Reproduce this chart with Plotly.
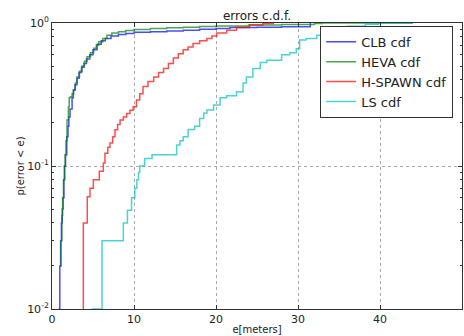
import plotly.graph_objects as go

# ---- data (step CDFs) ----
clb_x = [0.8, 0.95, 1.05, 1.15, 1.25, 1.35, 1.45, 1.55, 1.65, 1.8, 1.95, 2.05, 2.2, 2.45, 2.6, 2.8,
         3.05, 3.3, 3.6, 3.9, 4.2, 4.6, 5.0, 5.5, 6.0, 6.5, 7.2, 8.1, 9.0, 10.0, 12.0, 14.0, 16.0,
         18.0, 20.0, 21.7, 25.0, 28.0, 31.5]
clb_y = [0.01, 0.02, 0.03, 0.04, 0.05, 0.06, 0.08, 0.1, 0.12, 0.16, 0.19, 0.22, 0.25, 0.3, 0.34, 0.37,
         0.41, 0.45, 0.49, 0.52, 0.56, 0.6, 0.65, 0.71, 0.75, 0.78, 0.81, 0.83, 0.845, 0.86, 0.87, 0.88, 0.89,
         0.905, 0.915, 0.93, 0.935, 0.94, 1.0]

heva_x = [1.0, 1.1, 1.2, 1.3, 1.4, 1.5, 1.6, 1.7, 1.83, 2.0, 2.1, 2.25, 2.45, 2.64, 2.85, 3.05,
          3.35, 3.66, 3.95, 4.27, 4.7, 5.08, 5.4, 5.69, 6.2, 6.7, 7.3, 8.1, 9.0, 10.0, 12.0, 14.0,
          16.0, 18.0, 20.0, 24.0, 28.0, 32.0, 33.0, 44.0]
heva_y = [0.02, 0.03, 0.045, 0.06, 0.08, 0.1, 0.12, 0.15, 0.21, 0.26, 0.3, 0.305, 0.32, 0.34, 0.38, 0.42,
          0.46, 0.5, 0.54, 0.58, 0.62, 0.665, 0.7, 0.74, 0.78, 0.82, 0.85, 0.87, 0.885, 0.9, 0.915, 0.925,
          0.935, 0.945, 0.953, 0.968, 0.975, 0.99, 1.0, 1.0]

hspawn_x = [3.82, 3.82, 4.3, 4.63, 5.04, 5.77, 6.26, 6.46, 6.8, 7.07, 7.4, 7.68, 8.0, 8.3, 8.7, 9.1,
            9.5, 9.9, 10.3, 10.7, 11.1, 11.7, 12.4, 13.0, 13.6, 14.2, 14.8, 15.4, 16.0, 16.6, 17.2,
            18.0, 18.9, 19.5, 20.1, 21.3, 22.5, 24.1, 25.7, 27.0]
hspawn_y = [0.01, 0.04, 0.061, 0.07, 0.08, 0.092, 0.105, 0.123, 0.135, 0.145, 0.16, 0.179, 0.195, 0.21,
            0.22, 0.233, 0.245, 0.26, 0.29, 0.32, 0.36, 0.39, 0.42, 0.45, 0.48, 0.52, 0.57, 0.61, 0.65,
            0.68, 0.72, 0.75, 0.78, 0.81, 0.85, 0.89, 0.93, 0.97, 0.99, 1.0]

ls_x = [4.8, 6.1, 8.7, 9.2, 9.7, 10.1, 10.35, 10.55, 10.7, 11.3, 12.2, 15.2, 15.6, 16.0, 16.6, 17.4,
        18.0, 18.5, 18.9, 19.7, 20.5, 21.3, 22.5, 23.3, 23.7, 24.5, 25.4, 26.2, 28.0, 29.0, 29.8,
        30.2, 31.0, 32.3, 33.2, 34.1, 36.0, 38.2, 39.8, 44.0]
ls_y = [0.01, 0.03, 0.04, 0.049, 0.06, 0.07, 0.08, 0.09, 0.1, 0.113, 0.12, 0.14, 0.15, 0.16, 0.18, 0.19,
        0.215, 0.235, 0.246, 0.267, 0.3, 0.31, 0.33, 0.38, 0.42, 0.48, 0.53, 0.55, 0.6, 0.62, 0.66,
        0.76, 0.78, 0.82, 0.87, 0.92, 0.95, 0.98, 1.0, 1.0]

series = [
    ("CLB cdf", clb_x, clb_y, "rgba(0,0,255,0.7)"),
    ("HEVA cdf", heva_x, heva_y, "rgba(0,128,0,0.7)"),
    ("H-SPAWN cdf", hspawn_x, hspawn_y, "rgba(255,0,0,0.7)"),
    ("LS cdf", ls_x, ls_y, "rgba(0,191,191,0.7)"),
]

y_tickvals = [0.01, 0.1, 1]
y_ticktext = ["10<sup>-2</sup>", "10<sup>-1</sup>", "10<sup>0</sup>"]
y_minorvals = [m * d for d in (0.01, 0.1) for m in range(2, 10)]
x_tickvals = [0, 10, 20, 30, 40, 50]

fig = go.Figure()
for name, xs, ys, col in series:
    fig.add_trace(go.Scatter(x=xs, y=ys, name=name, mode="lines",
                             line=dict(color=col, width=1.5, shape="hv")))

font = "DejaVu Sans, sans-serif"
fig.update_layout(
    width=464, height=336,
    margin=dict(l=52, r=2, t=23, b=27, autoexpand=False),
    paper_bgcolor="white", plot_bgcolor="white",
    font=dict(family=font, size=11, color="#222"),
    title=dict(text="errors c.d.f.", x=0.5, xref="paper", xanchor="center",
               y=1, yref="paper", yanchor="bottom", pad=dict(b=3),
               font=dict(family=font, size=12, color="#222")),
    showlegend=True,
    legend=dict(x=0.654, y=0.99, xanchor="left", yanchor="top",
                bgcolor="white", bordercolor="#333", borderwidth=1,
                font=dict(family=font, size=13, color="#222"),
                tracegroupgap=0),
)
fig.update_xaxes(range=[0, 50], tickvals=x_tickvals, showline=True, linecolor="#333", linewidth=1,
                 mirror="allticks", ticks="inside", ticklen=4, tickcolor="#333",
                 showgrid=True, gridcolor="#aaa", griddash="dot", gridwidth=1, zeroline=False,
                 automargin=False,
                 title=dict(text="e[meters]", standoff=0, font=dict(family=font, size=10)),
                 tickfont=dict(size=11))
fig.update_yaxes(type="log", range=[-2, 0], tickvals=y_tickvals, ticktext=y_ticktext,
                 showline=True, linecolor="#333", linewidth=1, mirror="allticks",
                 ticks="inside", ticklen=4, tickcolor="#333",
                 minor=dict(tickvals=y_minorvals, ticks="inside", ticklen=2, tickcolor="#333",
                            showgrid=False),
                 showgrid=True, gridcolor="#aaa", griddash="dot", gridwidth=1, zeroline=False,
                 automargin=False,
                 title=dict(text="p(error < e)", standoff=0, font=dict(family=font, size=10)),
                 tickfont=dict(size=11))

fig.write_html("out.html", config={"displayModeBar": False},
               post_script="document.body.style.margin='0px';document.body.style.overflow='hidden';")
